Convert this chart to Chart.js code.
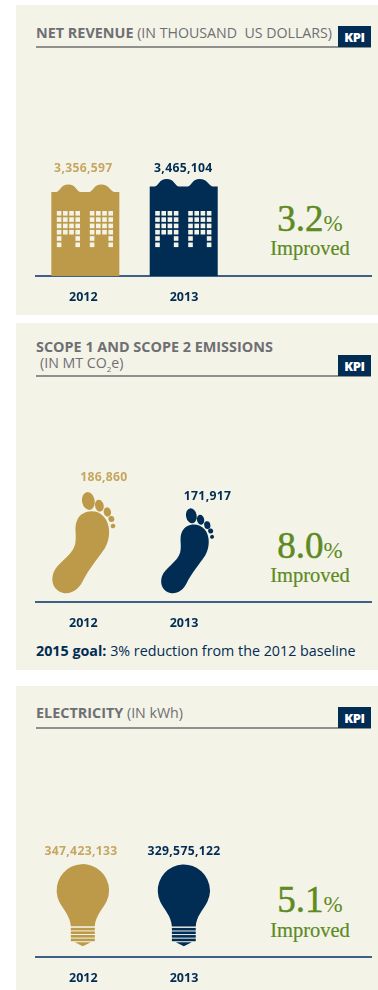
<!DOCTYPE html>
<html>
<head>
<meta charset="utf-8">
<title>KPI</title>
<script src="https://cdn.jsdelivr.net/npm/chart.js@4"></script>
<style>
  html, body { margin: 0; padding: 0; background: #fff; }
  body { position: relative; width: 378px; height: 990px; overflow: hidden; font-family: "Open Sans", sans-serif; }
  .panel { position: absolute; left: 16px; width: 362px; background: #f4f3e8; }
  .abs { position: absolute; white-space: nowrap; }
  .title { left: 36px; color: #6e6f72; font-size: 14.2px; line-height: 16px; }
  .title b { font-weight: 700; font-size: 14.4px; }
  .rule { position: absolute; left: 36px; width: 335px; height: 2px; background: #8f8f8b; }
  .kpi { position: absolute; left: 338px; width: 33px; height: 21px; background: #012c53; color: #fff;
         font-size: 13px; font-weight: 800; line-height: 22px; text-align: center; letter-spacing: -0.4px; }
  .pct { left: 250px; width: 120px; text-align: center; color: #5d8a23; font-family: "Liberation Serif", serif;
         font-size: 37px; line-height: 40px; -webkit-text-stroke: 0.5px #5d8a23; }
  .pct span { font-size: 23px; -webkit-text-stroke: 0; }
  .imp { left: 250px; width: 120px; text-align: center; color: #5d8a23; font-family: "Liberation Serif", serif;
         font-size: 20.5px; line-height: 24px; -webkit-text-stroke: 0.2px #5d8a23; }
  .goal { left: 36px; color: #012c53; font-size: 14.3px; line-height: 16px; }
  canvas { position: absolute; left: 0; }
</style>
</head>
<body>
<div class="panel" style="top:5px;height:310px"></div>
<div class="panel" style="top:323px;height:347px"></div>
<div class="panel" style="top:686px;height:304px"></div>

<div class="abs title" style="top:25px"><b>NET REVENUE</b> (IN THOUSAND&nbsp; US DOLLARS)</div>
<div class="rule" style="top:46px"></div>
<div class="kpi" style="top:26px">KPI</div>
<div class="abs pct" style="top:199px">3.2<span>%</span></div>
<div class="abs imp" style="top:236px">Improved</div>

<div class="abs title" style="top:339px"><b>SCOPE 1 AND SCOPE 2 EMISSIONS</b></div>
<div class="abs title" style="top:355px;left:40px">(IN MT CO<sub style="font-size:8px;line-height:0">2</sub>e)</div>
<div class="rule" style="top:375px"></div>
<div class="kpi" style="top:355px">KPI</div>
<div class="abs pct" style="top:526px">8.0<span>%</span></div>
<div class="abs imp" style="top:563px">Improved</div>
<div class="abs goal" style="top:643px"><b>2015 goal:</b> 3% reduction from the 2012 baseline</div>

<div class="abs title" style="top:705px"><b>ELECTRICITY</b> (IN kWh)</div>
<div class="rule" style="top:727px"></div>
<div class="kpi" style="top:707px">KPI</div>
<div class="abs pct" style="top:880px">5.1<span>%</span></div>
<div class="abs imp" style="top:918px">Improved</div>

<canvas id="revenue" style="top:100px" width="378" height="206"></canvas>
<canvas id="emissions" style="top:420px" width="378" height="212"></canvas>
<canvas id="electricity" style="top:780px" width="378" height="207"></canvas>

<script>
const years = [2012, 2013];
const revenue = [3356597, 3465104];
const emissions = [186860, 171917];
const electricity = [347423133, 329575122];

const GOLD = '#bc9a49';
const GOLD_TEXT = '#c5a761';
const NAVY = '#012c53';
const PAPER = '#f4f3e8';

function drawBuilding(ctx, cx, top, base, colour) {
  const left = cx - 34;
  const bodyTop = top + 7.5;
  ctx.fillStyle = colour;
  ctx.beginPath();
  ctx.moveTo(left, base);
  ctx.lineTo(left, bodyTop);
  ctx.lineTo(left + 5, bodyTop);
  ctx.bezierCurveTo(left + 9, bodyTop - 1, left + 9.5, top, left + 17, top);
  ctx.bezierCurveTo(left + 24.5, top, left + 25, bodyTop - 1, left + 29, bodyTop);
  ctx.lineTo(left + 38, bodyTop);
  ctx.bezierCurveTo(left + 42, bodyTop - 1, left + 42.5, top, left + 50, top);
  ctx.bezierCurveTo(left + 57.5, top, left + 59, bodyTop - 1, left + 63, bodyTop);
  ctx.lineTo(left + 68, bodyTop);
  ctx.lineTo(left + 68, base);
  ctx.closePath();
  ctx.fill();

  // windows: four full rows, then only the outer columns over the doorway
  ctx.fillStyle = PAPER;
  [5.5, 38.5].forEach((blockX) => {
    for (let row = 0; row < 6; row++) {
      for (let col = 0; col < 4; col++) {
        if (row > 3 && (col === 1 || col === 2)) continue;
        ctx.fillRect(left + blockX + col * 6.2, base - 65 + row * 6.3, 4.6, 4.6);
      }
    }
  });
}

function drawFoot(ctx, cx, top, bottom, colour) {
  const h = bottom - top;
  const w = h * 0.627;
  const left = cx - w / 2;
  const X = (v) => left + (v - 157) / 190 * w;
  const Y = (v) => top + (v - 517) / 303 * h;
  ctx.fillStyle = colour;
  ctx.beginPath();
  ctx.moveTo(X(190), Y(820));
  ctx.bezierCurveTo(X(165), Y(815), X(150), Y(790), X(160), Y(760));
  ctx.bezierCurveTo(X(170), Y(730), X(215), Y(710), X(225), Y(675));
  ctx.bezierCurveTo(X(232), Y(645), X(220), Y(625), X(232), Y(600));
  ctx.bezierCurveTo(X(245), Y(572), X(290), Y(565), X(312), Y(592));
  ctx.bezierCurveTo(X(332), Y(615), X(332), Y(655), X(315), Y(685));
  ctx.bezierCurveTo(X(295), Y(715), X(265), Y(750), X(248), Y(785));
  ctx.bezierCurveTo(X(235), Y(810), X(215), Y(824), X(190), Y(820));
  ctx.closePath();
  ctx.fill();
  // toes, big one first
  [[265, 544, 19, 27], [298, 558, 13, 18], [322, 577, 11, 14], [334, 598, 9, 9], [339, 619, 7, 7]].forEach((t) => {
    ctx.beginPath();
    ctx.ellipse(X(t[0]), Y(t[1]), t[2] / 190 * w, t[3] / 303 * h, -0.2, 0, Math.PI * 2);
    ctx.fill();
  });
}

function drawBulb(ctx, cx, top, bottom, colour) {
  const h = bottom - top;
  const s = h / 82;
  const y = (v) => top + v * s;
  const r = 26.2 * s;
  const cy = y(26);
  const endX = r * Math.cos(Math.PI * 0.14);
  const endY = cy + r * Math.sin(Math.PI * 0.14);
  ctx.fillStyle = colour;
  ctx.beginPath();
  ctx.arc(cx, cy, r, Math.PI * 0.86, Math.PI * 0.14);
  ctx.bezierCurveTo(cx + 19 * s, y(46), cx + 12.5 * s, y(52), cx + 12 * s, y(62));
  ctx.lineTo(cx - 12 * s, y(62));
  ctx.bezierCurveTo(cx - 12.5 * s, y(52), cx - 19 * s, y(46), cx - endX, endY);
  ctx.closePath();
  ctx.fill();
  // screw base
  for (let i = 0; i < 4; i++) {
    ctx.fillRect(cx - 12 * s, y(63.5 + i * 3.6), 24 * s, 2.6 * s);
  }
  ctx.beginPath();
  ctx.moveTo(cx - 8 * s, y(78));
  ctx.lineTo(cx + 8 * s, y(78));
  ctx.lineTo(cx, y(82));
  ctx.closePath();
  ctx.fill();
}

// one panel's chart: the bars are replaced by a pictogram standing on the axis
function makeChart(id, values, yMin, yMax, icon, iconDx, labelDx, labelLift) {
  const marks = {
    id: 'marks',
    beforeDatasetDraw(chart) {
      const ctx = chart.ctx;
      const base = chart.chartArea.bottom;
      chart.getDatasetMeta(0).data.forEach((bar, i) => {
        const colour = i === 0 ? GOLD : NAVY;
        icon(ctx, bar.x + iconDx[i], bar.y, base, colour);
        ctx.fillStyle = i === 0 ? GOLD_TEXT : NAVY;
        ctx.font = '700 12.2px "Open Sans"';
        ctx.letterSpacing = '0.3px';
        ctx.textAlign = 'center';
        ctx.textBaseline = 'middle';
        ctx.fillText(values[i].toLocaleString('en-US'), bar.x + labelDx[i], bar.y - labelLift[i]);
        ctx.letterSpacing = '0px';
      });
      return false;
    }
  };

  return new Chart(document.getElementById(id), {
    type: 'bar',
    data: {
      datasets: [{
        data: years.map((y, i) => ({ x: y, y: values[i] })),
        backgroundColor: [GOLD, NAVY],
        barThickness: 68
      }]
    },
    options: {
      responsive: false,
      animation: false,
      layout: { padding: { left: 36, right: 7 } },
      plugins: { legend: { display: false }, tooltip: { enabled: false } },
      scales: {
        x: {
          type: 'linear',
          offset: false,
          min: 2011.53,
          max: 2014.857,
          grid: { display: false },
          border: { display: true, color: '#3f6086', width: 2 },
          afterBuildTicks: (scale) => { scale.ticks = years.map((y) => ({ value: y })); },
          afterFit: (scale) => { scale.height = 30; },
          ticks: {
            autoSkip: false,
            maxRotation: 0,
            padding: 6,
            color: NAVY,
            font: { family: '"Open Sans"', size: 12.5, weight: '700' },
            callback: (v) => String(v)
          }
        },
        y: { display: false, min: yMin, max: yMax }
      }
    },
    plugins: [marks]
  });
}

makeChart('revenue', revenue, 1550000, 5022000, drawBuilding, [2, -0.3], [0, -0.7], [15.5, 10]);
makeChart('emissions', emissions, 86020, 252860,
  (ctx, cx, top, base, colour) => drawFoot(ctx, cx, top, base - 9, colour),
  [0.7, 3.7], [20.5, 23.5], [14, 12]);
makeChart('electricity', electricity, -3360000000, 3720000000,
  (ctx, cx, top, base, colour) => drawBulb(ctx, cx, top, base - 10.7, colour),
  [-0.5, -0.2], [-2.3, 0], [13, 13]);
</script>
</body>
</html>
